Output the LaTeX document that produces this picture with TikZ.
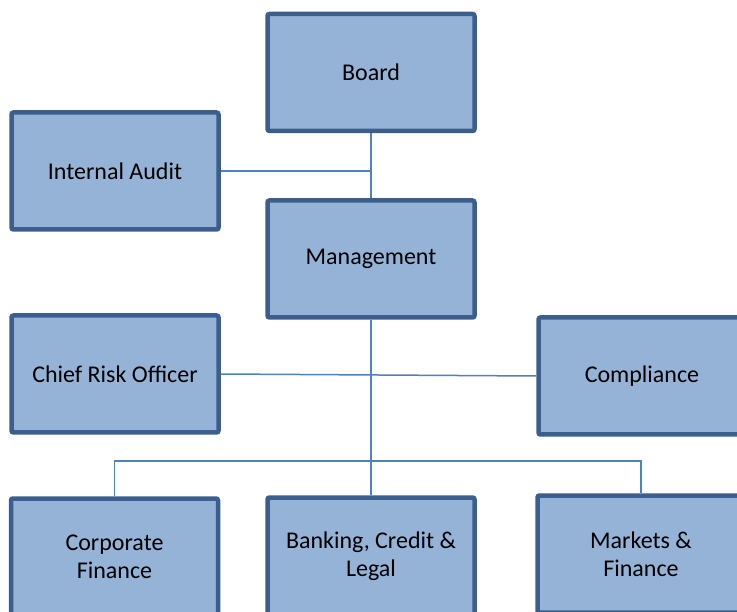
\documentclass[tikz,border=0pt]{standalone}
\usepackage{fontspec}
\setmainfont{Carlito}
\definecolor{unitfill}{HTML}{95B3D7}
\definecolor{unitedge}{HTML}{3B5E8C}
\definecolor{linkblue}{HTML}{4F81BD}

\begin{document}
\begin{tikzpicture}[x=1pt,y=-1pt,
    unit/.style ={rectangle, draw=unitedge, fill=unitfill, line width=4.5pt, rounded corners=2pt,
                  minimum width=207pt, minimum height=117pt, align=center, font=\fontsize{24}{28}\selectfont},
    link/.style ={draw=linkblue, line width=1.5pt}]
   \useasboundingbox (0,0) rectangle (737,612);
   \clip (0,0) rectangle (737,612);
   \node[unit] (board)  at (371,72.5)  {Board};
   \node[unit] (audit)  at (115,171)   {Internal Audit};
   \node[unit] (mgmt)   at (371,259)   {Management};
   \node[unit] (risk)   at (115,374)   {Chief Risk Officer};
   \node[unit] (comp)   at (642,376)   {Compliance};
   \node[unit] (corp)   at (114.5,557) {Corporate\\Finance};
   \node[unit] (bank)   at (371,556)   {Banking, Credit \&\\Legal};
   \node[unit] (mkts)   at (641,554)   {Markets \&\\Finance};
   \coordinate (bus) at (371,461);
   \draw[link] (board) -- (mgmt);
   \draw[link] (audit.east) -- (audit.east -| board.south);
   \draw[link] (mgmt) -- (bank);
   \draw[link] (risk.east) -- (comp.west);
   \draw[link] (corp.north) |- (bus) -| (mkts.north);
 \end{tikzpicture}
\end{document}
